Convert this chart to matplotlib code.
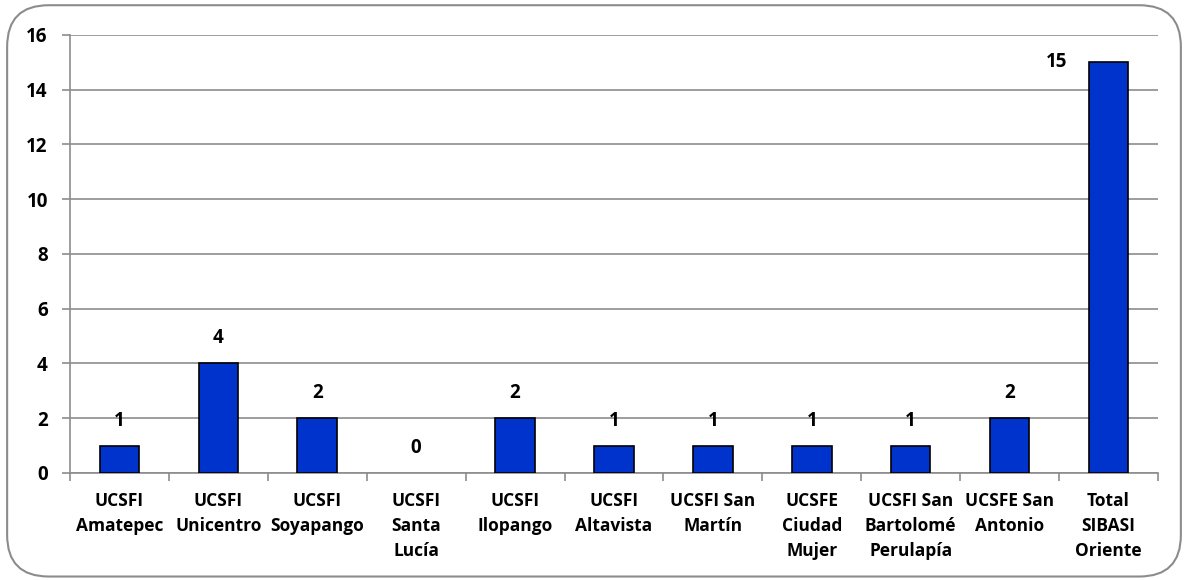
import matplotlib.pyplot as plt
from matplotlib.patches import FancyBboxPatch

categories = [
    "UCSFI\nAmatepec", "UCSFI\nUnicentro", "UCSFI\nSoyapango", "UCSFI\nSanta\nLucía",
    "UCSFI\nIlopango", "UCSFI\nAltavista", "UCSFI San\nMartín", "UCSFE\nCiudad\nMujer",
    "UCSFI San\nBartolomé\nPerulapía", "UCSFE San\nAntonio", "Total\nSIBASI\nOriente",
]
values = [1, 4, 2, 0, 2, 1, 1, 1, 1, 2, 15]
y_ticks = [0, 2, 4, 6, 8, 10, 12, 14, 16]

plt.rcParams["font.family"] = ["Open Sans", "DejaVu Sans"]
plt.rcParams["font.weight"] = "bold"

fig = plt.figure(figsize=(11.88, 5.8), dpi=100)
ax = fig.add_axes([0.0589, 0.1845, 0.9158, 0.7552])

frame = FancyBboxPatch((0.006, 0.006), 0.988, 0.985, boxstyle="round,pad=0,rounding_size=0.035",
                       transform=fig.transFigure, facecolor="none", edgecolor="#8c8c8c",
                       linewidth=1.5, mutation_aspect=1188 / 580)
fig.patches.append(frame)

x = list(range(len(values)))
edge_widths = [1.2 if v > 0 else 0 for v in values]
ax.bar(x, values, width=0.4, color="#0033CC", edgecolor="black", linewidth=edge_widths, zorder=3)

for i, v in enumerate(values):
    if i == len(values) - 1:
        ax.text(i - 0.42, v, str(v), ha="right", va="center", fontsize=13.5, fontweight="bold")
    else:
        ax.text(i, v + 0.55, str(v), ha="center", va="bottom", fontsize=13.5, fontweight="bold")

ax.set_xlim(-0.5, len(values) - 0.5)
ax.set_ylim(0, 16)
ax.set_yticks(y_ticks)
ax.set_yticklabels([str(t) for t in y_ticks], fontsize=13.5, fontweight="bold")
ax.yaxis.grid(True, color="#8c8c8c", linewidth=1.2, zorder=0)
ax.set_axisbelow(True)

ax.set_xticks([i + 0.5 for i in range(-1, len(values))], minor=False)
ax.set_xticklabels([])
ax.set_xticks(x, minor=True)
ax.set_xticklabels(categories, minor=True, fontsize=12.5, fontweight="bold", linespacing=1.5)
ax.tick_params(axis="x", which="minor", length=0, pad=14)
ax.tick_params(axis="x", which="major", length=6, color="#8c8c8c", width=1.2)
ax.tick_params(axis="y", length=6, color="#8c8c8c", width=1.2, pad=10)
for lbl in ax.get_xticklabels(minor=True):
    lbl.set_verticalalignment("top")

for side in ["top", "right"]:
    ax.spines[side].set_visible(False)
for side in ["left", "bottom"]:
    ax.spines[side].set_color("#8c8c8c")
    ax.spines[side].set_linewidth(1.2)

fig.savefig("out.png", dpi=100)
